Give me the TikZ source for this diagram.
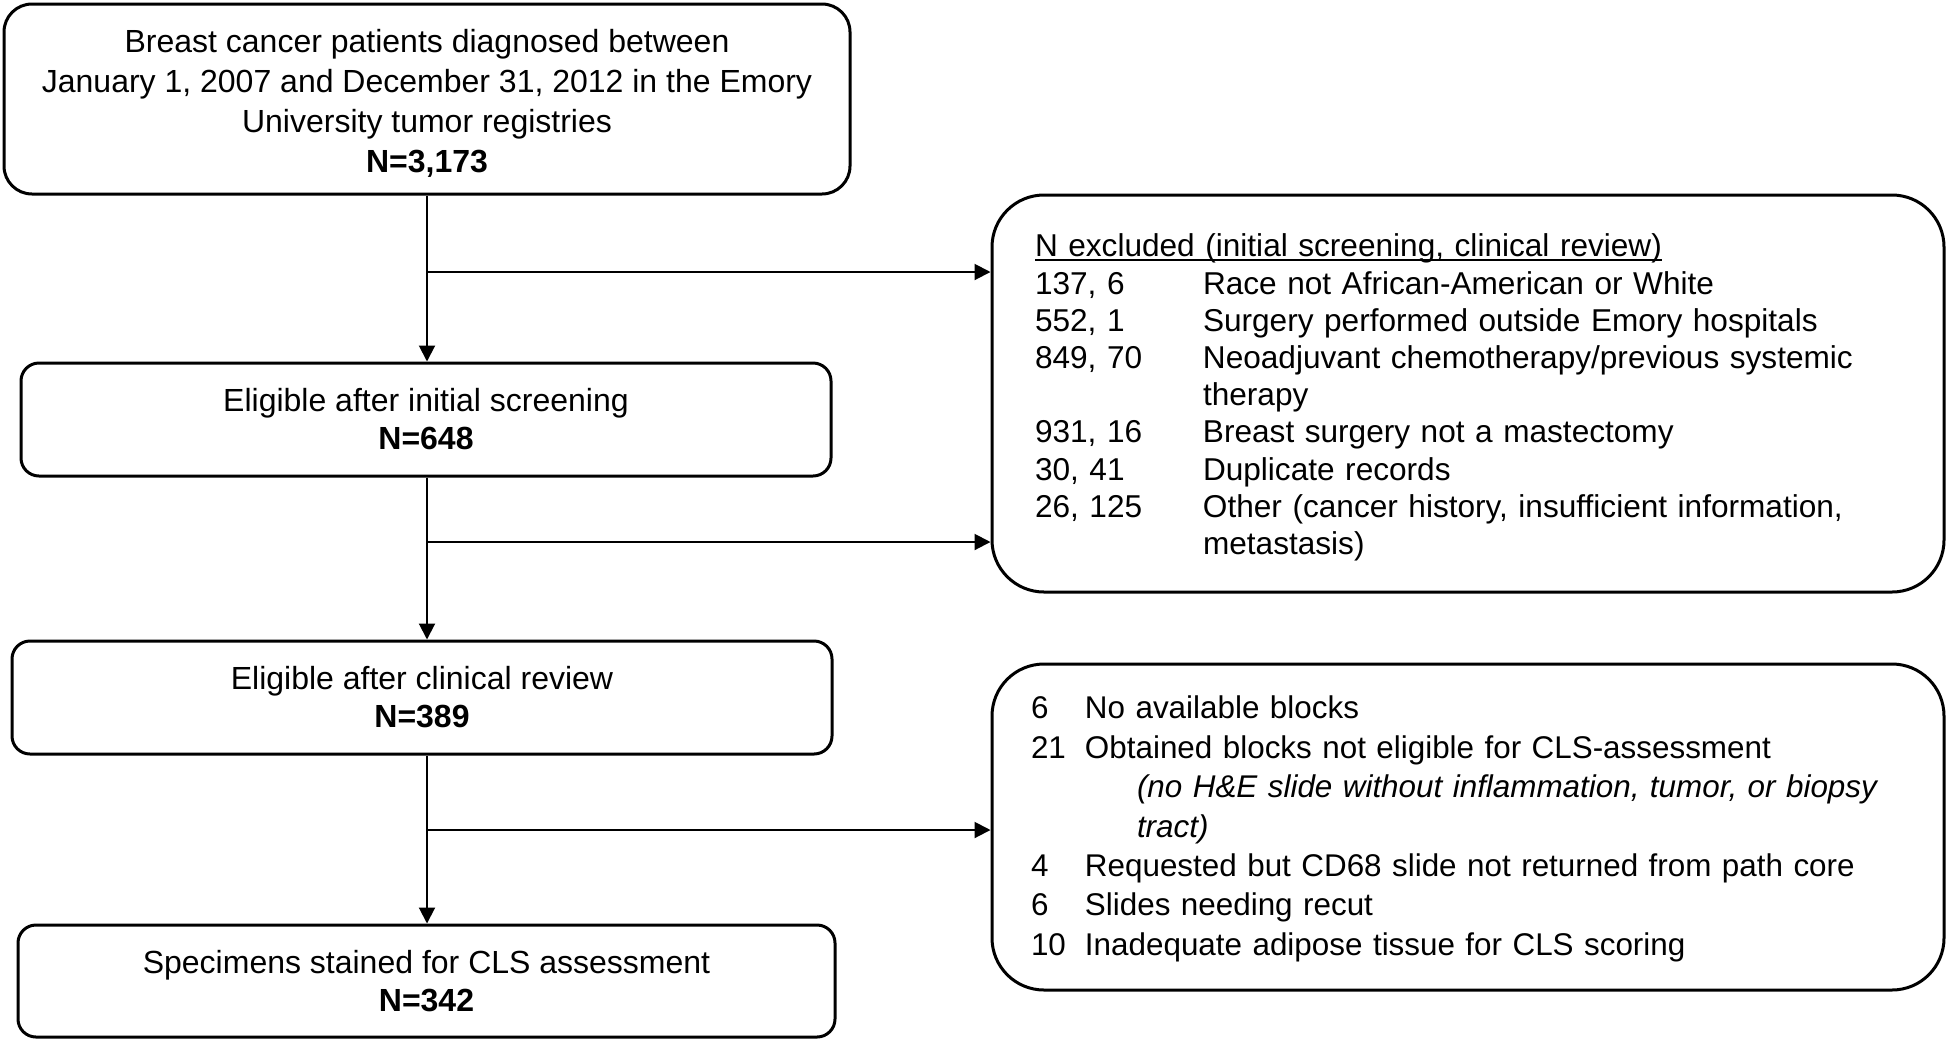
\documentclass[tikz,border=0pt]{standalone}
\usepackage{fontspec}
\setmainfont{Liberation Sans}
\usetikzlibrary{arrows.meta}
\newcommand\myul[1]{\setbox0\hbox{#1}\rlap{\rule[-2.1pt]{\wd0}{0.9pt}}\box0}
\begin{document}
\begin{tikzpicture}[x=0.5pt,y=-0.5pt,
  box/.style={draw, line width=1.5pt, rounded corners=9pt, align=center, inner sep=0pt},
  bigbox/.style={draw, line width=1.5pt, rounded corners=26pt, align=left, inner sep=0pt, minimum width=476pt},
  arr/.style={line width=1pt, -{Triangle[length=8pt,width=8pt]}},
  ln/.style={line width=1pt}]
\useasboundingbox (0,0) rectangle (1948,1040);
% left column
\node[box, rounded corners=14pt, minimum width=423pt, minimum height=95pt,
  font=\fontsize{16}{20}\selectfont] (top) at (427,99)
  {\rule{0pt}{15.6pt}Breast cancer patients diagnosed between\\January 1, 2007 and December 31, 2012 in the Emory\\University tumor registries\\\textbf{N=3,173}};
\node[box, minimum width=405pt, minimum height=56.5pt,
  font=\fontsize{16}{19}\selectfont] (e1) at (426,419.5)
  {Eligible after initial screening\\\textbf{N=648}};
\node[box, minimum width=410pt, minimum height=56.5pt,
  font=\fontsize{16}{19}\selectfont] (e2) at (422,697.5)
  {Eligible after clinical review\\\textbf{N=389}};
\node[box, minimum width=408.5pt, minimum height=56pt,
  font=\fontsize{16}{19}\selectfont] (e3) at (426.5,981)
  {Specimens stained for CLS assessment\\\textbf{N=342}};
% right column
\node[bigbox, minimum height=198.5pt, text width=433pt,
  font=\fontsize{15.8}{18.6}\selectfont] (x1) at (1468,393.5)
  {\rule{0pt}{15.4pt}\myul{N excluded (initial screening, clinical review)}\\
   \makebox[84pt][l]{137, 6}Race not African-American or White\\
   \makebox[84pt][l]{552, 1}Surgery performed outside Emory hospitals\\
   \makebox[84pt][l]{849, 70}Neoadjuvant chemotherapy/previous systemic\\
   \hspace*{84pt}therapy\\
   \makebox[84pt][l]{931, 16}Breast surgery not a mastectomy\\
   \makebox[84pt][l]{30, 41}Duplicate records\\
   \makebox[84pt][l]{26, 125}Other (cancer history, insufficient information,\\
   \hspace*{84pt}metastasis)};
\node[bigbox, minimum height=163pt, text width=437pt,
  font=\fontsize{15.7}{19.7}\selectfont] (x2) at (1468,827)
  {\rule{0pt}{13.3pt}\makebox[27pt][l]{6}No available blocks\\
   \makebox[27pt][l]{21}Obtained blocks not eligible for CLS-assessment\\
   \hspace*{53pt}\textit{(no H\&E slide without inflammation, tumor, or biopsy}\\
   \hspace*{53pt}\textit{tract)}\\
   \makebox[27pt][l]{4}Requested but CD68 slide not returned from path core\\
   \makebox[27pt][l]{6}Slides needing recut\\
   \makebox[27pt][l]{10}Inadequate adipose tissue for CLS scoring};
% connectors
\coordinate (xl) at (427,0);
\coordinate (b1) at (427,272);
\coordinate (b2) at (427,542);
\coordinate (b3) at (427,830);
\draw[arr] (top.south -| xl) -- (e1.north -| xl);
\draw[arr] (e1.south -| xl) -- (e2.north -| xl);
\draw[arr] (e2.south -| xl) -- (e3.north -| xl);
\draw[arr] (b1) -- (b1 -| x1.west);
\draw[arr] (b2) -- (b2 -| x1.west);
\draw[arr] (b3) -- (b3 -| x2.west);
\end{tikzpicture}
\end{document}
